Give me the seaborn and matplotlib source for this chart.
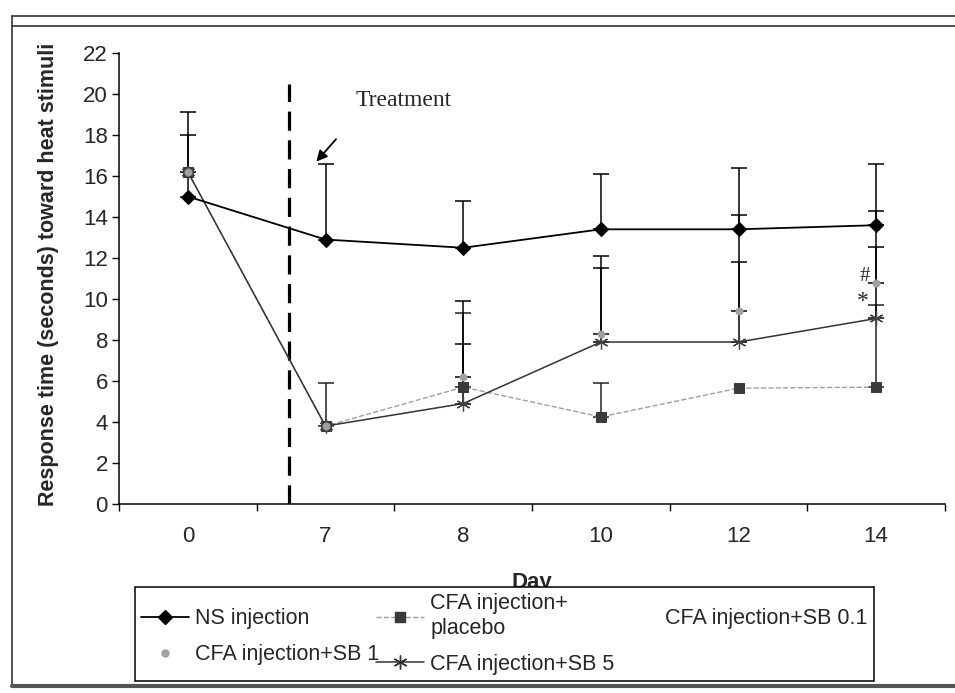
import numpy as np
import pandas as pd
import matplotlib
matplotlib.use("Agg")
import matplotlib.pyplot as plt
from matplotlib.lines import Line2D
import seaborn as sns

# ---- data ----
days = ["0", "7", "8", "10", "12", "14"]
ns_injection = [15.0, 12.9, 12.5, 13.4, 13.4, 13.6]
ns_err = [4.1, 3.7, 2.3, 2.7, 3.0, 3.0]
cfa_placebo = [16.2, 3.8, 5.7, 4.25, 5.65, 5.7]
placebo_err = [0.0, 2.1, 3.6, 1.65, 0.0, 4.0]
cfa_sb1 = [16.2, 3.8, 6.2, 8.3, 9.4, 10.8]
sb1_err = [1.8, 0.0, 3.7, 3.8, 4.7, 3.5]
cfa_sb5 = [16.2, 3.8, 4.9, 7.9, 7.9, 9.05]
sb5_err = [0.0, 0.0, 2.9, 3.6, 3.9, 3.5]
y_ticks = list(range(0, 23, 2))
legend_labels = ["NS injection", "CFA injection+SB 1", "CFA injection+\nplacebo",
                 "CFA injection+SB 5", "CFA injection+SB 0.1"]

sns.set_style("white")
plt.rcParams["font.family"] = ["Liberation Sans", "DejaVu Sans"]

W, H = 955, 693
fig = plt.figure(figsize=(W / 100, H / 100), dpi=100)
ax = fig.add_axes([119 / W, 1 - 504 / H, (945 - 119) / W, (504 - 53) / H])

xi = np.arange(len(days))
star = (6, 2, 0)


def upper_err(vals, errs, color="black"):
    vals = np.asarray(vals)
    errs = np.asarray(errs)
    m = errs > 0
    ax.errorbar(xi[m], vals[m], yerr=[np.zeros(m.sum()), errs[m]], fmt="none",
                ecolor=color, elinewidth=1.1, capsize=6, capthick=1.1, zorder=2)


upper_err(ns_injection, ns_err)
upper_err(cfa_placebo, placebo_err, "#222222")
upper_err(cfa_sb1, sb1_err)
upper_err(cfa_sb5, sb5_err)

sns.lineplot(x=xi, y=cfa_placebo, ax=ax, color="#a0a0a0", linestyle="--", lw=1.0,
             marker="s", markersize=7, markerfacecolor="#3a3a3a",
             markeredgecolor="#3a3a3a", zorder=3)
sns.lineplot(x=xi, y=cfa_sb5, ax=ax, color="#333333", lw=1.1,
             marker=star, markersize=10, markeredgecolor="#444444",
             markeredgewidth=0.9, zorder=4)
sns.scatterplot(x=xi, y=cfa_sb1, ax=ax, color="#a0a0a0", marker="o", s=28,
                edgecolor="#a0a0a0", zorder=5)
sns.lineplot(x=xi, y=ns_injection, ax=ax, color="black", lw=1.3,
             marker="D", markersize=7, markeredgecolor="black", zorder=6)

# treatment marker
ax.plot([0.732, 0.732], [0, 20.5], color="black", lw=2.3,
        linestyle=(0, (6, 3)), zorder=1)
ax.text(1.22, 19.7, "Treatment", family=["Liberation Serif"], fontsize=17,
        ha="left", va="center")
ax.annotate("", xy=(0.92, 16.6), xytext=(1.09, 17.9),
            arrowprops=dict(arrowstyle="-|>", color="black", lw=1.3,
                            mutation_scale=16))
ax.text(4.92, 11.1, "#", family=["Liberation Serif"], fontsize=15,
        ha="center", va="center")
ax.text(4.9, 9.9, "*", family=["Liberation Serif"], fontsize=17,
        ha="center", va="center")

# axes
ax.set_xlim(-0.5, 5.5)
ax.set_ylim(0, 22)
ax.set_yticks(y_ticks)
ax.set_yticklabels([str(t) for t in y_ticks], fontsize=16)
ax.set_xticks(xi)
ax.set_xticklabels(days, fontsize=16)
ax.set_xticks(np.arange(-0.5, 6, 1), minor=True)
ax.tick_params(axis="x", which="major", length=0, pad=16)
ax.tick_params(axis="x", which="minor", length=5, width=1, direction="out",
               bottom=True, color="black")
ax.tick_params(axis="y", which="major", length=5, width=1, direction="out",
               left=True, color="black", pad=3)
for s in ["top", "right"]:
    ax.spines[s].set_visible(False)
for s in ["left", "bottom"]:
    ax.spines[s].set_color("black")
    ax.spines[s].set_linewidth(1.1)

ax.set_ylabel("Response time (seconds) toward heat stimuli", fontsize=15.5,
              fontweight="bold")
ax.yaxis.set_label_coords(-0.073, 0.51)
ax.set_xlabel("Day", fontsize=16, fontweight="bold")
ax.xaxis.set_label_coords(0.5, -0.15)

# legend
handles = [
    Line2D([], [], color="black", lw=1.3, marker="D", markersize=7),
    Line2D([], [], color="white", lw=0, marker="o", markersize=5,
           markerfacecolor="#a0a0a0", markeredgecolor="#a0a0a0"),
    Line2D([], [], color="#a0a0a0", lw=1.0, linestyle="--", marker="s",
           markersize=7, markerfacecolor="#3a3a3a", markeredgecolor="#3a3a3a"),
    Line2D([], [], color="#333333", lw=1.1, marker=star, markersize=10),
    Line2D([], [], linestyle="none"),
]
leg = fig.legend(handles, legend_labels, ncol=3, loc="upper left",
                 bbox_to_anchor=(135 / W, 1 - 587 / H), borderaxespad=0,
                 fontsize=15.5, frameon=True, fancybox=False, framealpha=1,
                 edgecolor="black", facecolor="white", handlelength=2.2,
                 handletextpad=0.3, columnspacing=-0.15, labelspacing=0.7,
                 borderpad=0.3)
leg.get_frame().set_linewidth(1.1)

# scan frame
def fline(x0, y0, x1, y1, lw=1.2, color="#333333"):
    fig.add_artist(Line2D([x0 / W, x1 / W], [1 - y0 / H, 1 - y1 / H],
                          transform=fig.transFigure, color=color, lw=lw))

fline(12, 16, 955, 16)
fline(12, 26, 955, 26)
fline(12, 16, 12, 686)
fline(12, 686, 955, 686, lw=3, color="#555555")

fig.savefig("out.png", dpi=100)
